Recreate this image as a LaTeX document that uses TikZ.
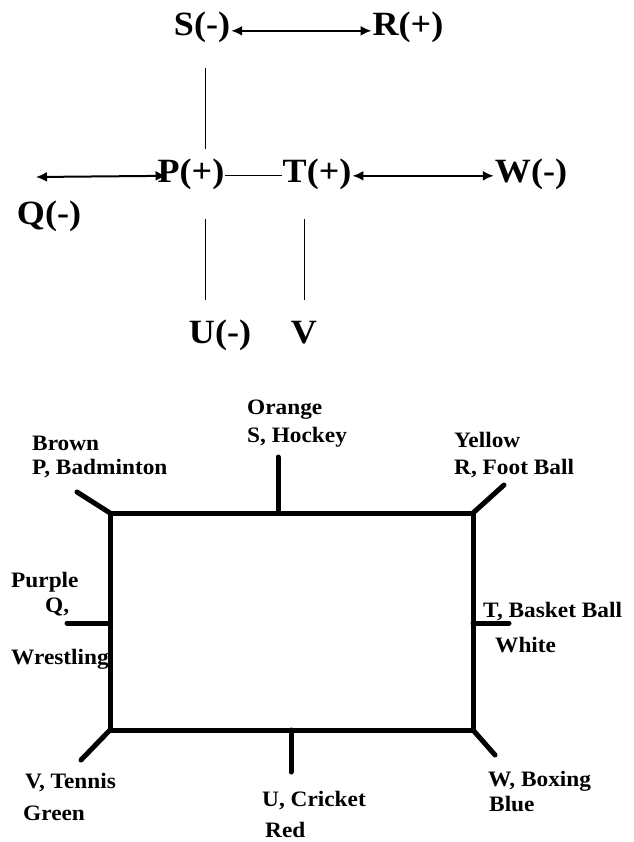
\documentclass[tikz,border=0pt]{standalone}
\usepackage{fontspec}
\setmainfont{Liberation Serif}
\newfontfamily\wideserif[FakeStretch=1.06]{Liberation Serif}
\usetikzlibrary{arrows.meta}

\begin{document}
\begin{tikzpicture}[x=1pt,y=-1pt,>={Latex[length=11pt,width=10pt]},
  member/.style={font=\wideserif\fontsize{34}{36}\selectfont\bfseries,anchor=base,inner sep=1pt},
  seat/.style={font=\wideserif\fontsize{22}{24}\selectfont\bfseries,anchor=base west,inner sep=0pt},
  tie/.style={line width=2pt},
  wall/.style={line width=5pt,line cap=round}]
\useasboundingbox (0,0) rectangle (633,842);
% family tree
\node[member] (S) at (202,36) {S(-)};
\node[member] (R) at (408,36) {R(+)};
\node[member] (P) at (191,183) {P(+)};
\node[member] (T) at (317,183) {T(+)};
\node[member] (W) at (531,183) {W(-)};
\node[member] (Q) at (49,225) {Q(-)};
\node[member] (U) at (220,343) {U(-)};
\node[member] (V) at (304,343) {V};
\coordinate (s1) at (205,68);
\coordinate (s2) at (205,149);
\coordinate (p1) at (205,219);
\coordinate (p2) at (205,300);
\coordinate (t1) at (304,219);
\coordinate (t2) at (304,300);
\coordinate (q1) at (36,177);
\draw[<->,tie] ([yshift=-3pt]S.east) -- ([yshift=-3pt]R.west);
\draw (s1) -- (s2);
\draw[<->,tie] (q1) -- ([xshift=10pt,yshift=-1pt]P.west);
\draw (P.east) -- (T.west);
\draw[<->,tie] ([yshift=-1pt]T.east) -- ([yshift=-1pt]W.west);
\draw (p1) -- (p2);
\draw (t1) -- (t2);
% seating
\coordinate (A) at (110,513);
\coordinate (B) at (473,513);
\coordinate (C) at (473,730);
\coordinate (D) at (110,730);
\draw[wall,line cap=butt] (A) -- (B) -- (C) -- (D) -- cycle;
\draw[wall] (A) -- (77,492);
\draw[wall] (B) -- (504,485);
\draw[wall] (C) -- (495,755);
\draw[wall] (D) -- (81,760);
\draw[wall] (278,457) -- (278,513);
\draw[wall] (67,623) -- (110,623);
\draw[wall] (473,623) -- (509,623);
\draw[wall] (291,730) -- (291,772);
\node[seat] (orange) at (247,414) {Orange};
\node[seat] (hockey) at (247,442) {S, Hockey};
\node[seat] (brown) at (32,450) {Brown};
\node[seat] (badm) at (32,474) {P, Badminton};
\node[seat] (yellow) at (454,447) {Yellow};
\node[seat] (foot) at (454,474) {R, Foot Ball};
\node[seat] (purple) at (11,587) {Purple};
\node[seat] (qq) at (45,612) {Q,};
\node[seat] (wrest) at (11,664) {Wrestling};
\node[seat] (basket) at (483,617) {T, Basket Ball};
\node[seat] (white) at (495,652) {White};
\node[seat] (tennis) at (25,788) {V, Tennis};
\node[seat] (green) at (23,820) {Green};
\node[seat] (cricket) at (262,806) {U, Cricket};
\node[seat] (red) at (265,837) {Red};
\node[seat] (boxing) at (488,786) {W, Boxing};
\node[seat] (blue) at (489,811) {Blue};
\end{tikzpicture}
\end{document}
